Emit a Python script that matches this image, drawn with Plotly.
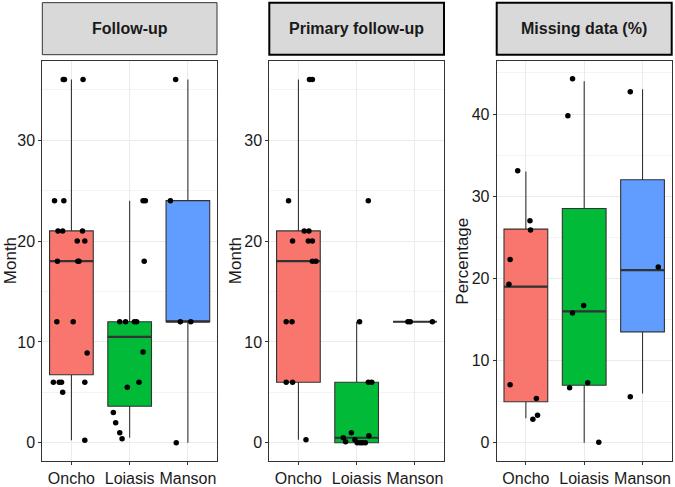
import plotly.graph_objects as go

W, H = 675, 487

groups = ["Oncho", "Loiasis", "Manson"]
colors = ["#F8766D", "#00BA38", "#619CFF"]
panel_titles = ["Follow-up", "Primary follow-up", "Missing data (%)"]
axis_titles = ["Month", "Month", "Percentage"]

# Box statistics per panel: [Oncho, Loiasis, Manson]
follow_q1 = [6.75, 3.625, 12]
follow_med = [18, 10.5, 12]
follow_q3 = [21, 12, 24]
follow_lo = [0.25, 0.5, 0]
follow_hi = [36, 24, 36]

primary_q1 = [6, 0, 12]
primary_med = [18, 0.5, 12]
primary_q3 = [21, 6, 12]
primary_lo = [0.3, 0, 12]
primary_hi = [36, 12, 12]

missing_q1 = [5, 7, 13.5]
missing_med = [19, 16, 21]
missing_q3 = [26, 28.5, 32]
missing_lo = [3, 0, 6]
missing_hi = [33, 44, 43]

# Jittered points (values and horizontal jitter)
follow_oncho = [36, 36, 36, 24, 24, 21, 21, 21, 20, 20, 18, 18, 18, 12, 12, 8.9, 6, 6, 6, 6, 5, 0.25]
follow_oncho_jit = [-0.14, -0.12, 0.20, -0.29, -0.13, -0.23, -0.15, 0.19, 0.10, 0.23, -0.24, 0.11, 0.13, -0.25, 0.03, 0.27, -0.31, -0.21, -0.17, 0.23, -0.15, 0.23]
follow_loiasis = [24, 24, 18, 12, 12, 12, 12, 9, 6, 5.5, 3, 2, 1, 0.4]
follow_loiasis_jit = [0.23, 0.27, 0.25, -0.17, -0.07, 0.08, 0.12, 0.23, 0.16, -0.04, -0.28, -0.24, -0.17, -0.13]
follow_manson = [36, 24, 12, 12, 0]
follow_manson_jit = [-0.21, -0.30, -0.13, 0.05, -0.20]

primary_oncho = [36, 36, 24, 21, 21, 20, 20, 20, 18, 18, 12, 12, 6, 6, 0.3]
primary_oncho_jit = [0.19, 0.24, -0.17, 0.10, 0.18, -0.10, 0.17, 0.24, 0.24, 0.30, -0.21, -0.11, -0.21, -0.10, 0.13]
primary_loiasis = [24, 12, 6, 6, 1, 0.7, 0.5, 0.1, 0.3, 0, 0, 0, 0]
primary_loiasis_jit = [0.20, 0.05, 0.20, 0.26, -0.09, 0.21, -0.23, -0.19, -0.03, 0.01, 0.06, 0.10, 0.15]
primary_manson = [12, 12, 12]
primary_manson_jit = [-0.12, -0.08, 0.30]

missing_oncho = [33.1, 27.0, 25.9, 22.3, 19.3, 7.07, 5.4, 3.36, 2.87]
missing_oncho_jit = [-0.14, 0.07, 0.08, -0.27, -0.29, -0.27, 0.18, 0.20, 0.12]
missing_loiasis = [44.3, 39.8, 16.7, 15.8, 7.3, 6.7, 0.07]
missing_loiasis_jit = [-0.20, -0.28, -0.01, -0.20, 0.06, -0.25, 0.25]
missing_manson = [42.7, 21.4, 5.6]
missing_manson_jit = [-0.21, 0.27, -0.21]

y_ranges = [[-1.8, 37.8], [-1.8, 37.8], [-2.21, 46.4]]
y_ticks = [[0, 10, 20, 30], [0, 10, 20, 30], [0, 10, 20, 30, 40]]

panels = [
    (follow_q1, follow_med, follow_q3, follow_lo, follow_hi,
     [(follow_oncho, follow_oncho_jit), (follow_loiasis, follow_loiasis_jit), (follow_manson, follow_manson_jit)]),
    (primary_q1, primary_med, primary_q3, primary_lo, primary_hi,
     [(primary_oncho, primary_oncho_jit), (primary_loiasis, primary_loiasis_jit), (primary_manson, primary_manson_jit)]),
    (missing_q1, missing_med, missing_q3, missing_lo, missing_hi,
     [(missing_oncho, missing_oncho_jit), (missing_loiasis, missing_loiasis_jit), (missing_manson, missing_manson_jit)]),
]

# layout geometry in pixels
panel_x = [(42.3, 217.0), (269.3, 444.0), (496.7, 671.7)]
panel_top, panel_bot = 62.3, 467.7
strip_top, strip_bot = 2.7, 55.5
title_x = [10.0, 235.0, 462.5]
strip_line = [dict(color="#333333", width=1), dict(color="#000000", width=2), dict(color="#000000", width=2)]

fx = lambda px: px / W
fy = lambda py: 1 - py / H

BOXW = 0.75
fig = go.Figure()
layout = dict(width=W, height=H, margin=dict(l=0, r=0, t=0, b=0),
              paper_bgcolor="white", plot_bgcolor="white", showlegend=False,
              font=dict(family="Liberation Sans, Arial, sans-serif", color="#1A1A1A"),
              shapes=[], annotations=[])

for p, (q1, med, q3, lo, hi, pts) in enumerate(panels):
    ax = "" if p == 0 else str(p + 1)
    xref, yref = "x" + ax, "y" + ax
    for i in range(3):
        fig.add_trace(go.Box(x=[i], q1=[q1[i]], median=[med[i]], q3=[q3[i]],
                             lowerfence=[lo[i]], upperfence=[hi[i]],
                             width=BOXW, whiskerwidth=0, boxpoints=False,
                             fillcolor=colors[i], line=dict(color="#333333", width=1.1),
                             xaxis=xref, yaxis=yref, hoverinfo="skip"))
        fig.add_trace(go.Scatter(x=[i - BOXW / 2, i + BOXW / 2], y=[med[i], med[i]], mode="lines",
                                 line=dict(color="#333333", width=2.2),
                                 xaxis=xref, yaxis=yref, hoverinfo="skip"))
    for i, (vals, jit) in enumerate(pts):
        fig.add_trace(go.Scatter(x=[i + j for j in jit], y=vals, mode="markers",
                                 marker=dict(color="black", size=5.5, line=dict(width=0)),
                                 xaxis=xref, yaxis=yref, hoverinfo="skip"))
    x0, x1 = panel_x[p]
    layout["xaxis" + ax] = dict(domain=[fx(x0), fx(x1)], range=[-0.5, 2.5], anchor=yref,
                                tickvals=[0, 1, 2], ticktext=groups, ticks="outside", ticklen=3,
                                tickcolor="#333333", showline=True, mirror=True,
                                linecolor="#333333", linewidth=1, showgrid=True,
                                gridcolor="#EBEBEB", gridwidth=1, zeroline=False,
                                tickfont=dict(size=16, color="#1A1A1A"), fixedrange=True)
    layout["yaxis" + ax] = dict(domain=[fy(panel_bot), fy(panel_top)], range=y_ranges[p], anchor=xref,
                                tickvals=y_ticks[p], ticks="outside", ticklen=3, tickcolor="#333333",
                                showline=True, mirror=True, linecolor="#333333", linewidth=1,
                                showgrid=True, gridcolor="#EBEBEB", gridwidth=1, zeroline=False,
                                minor=dict(dtick=5, tick0=0, showgrid=True, gridcolor="#F4F4F4", gridwidth=0.6),
                                tickfont=dict(size=16, color="#1A1A1A"), fixedrange=True)
    layout["shapes"].append(dict(type="rect", xref="paper", yref="paper",
                                 x0=fx(x0), x1=fx(x1), y0=fy(strip_bot), y1=fy(strip_top),
                                 fillcolor="#D9D9D9", line=strip_line[p], layer="below"))
    layout["annotations"].append(dict(text="<b>" + panel_titles[p] + "</b>", xref="paper", yref="paper",
                                      x=fx((x0 + x1) / 2), y=fy((strip_top + strip_bot) / 2),
                                      showarrow=False, xanchor="center", yanchor="middle",
                                      font=dict(size=16, color="#1A1A1A")))
    layout["annotations"].append(dict(text=axis_titles[p], xref="paper", yref="paper",
                                      x=fx(title_x[p]), y=fy((panel_top + panel_bot) / 2),
                                      textangle=-90, showarrow=False, xanchor="center", yanchor="middle",
                                      font=dict(size=17, color="#1A1A1A")))

fig.update_layout(**layout)
fig.write_html("out.html")
